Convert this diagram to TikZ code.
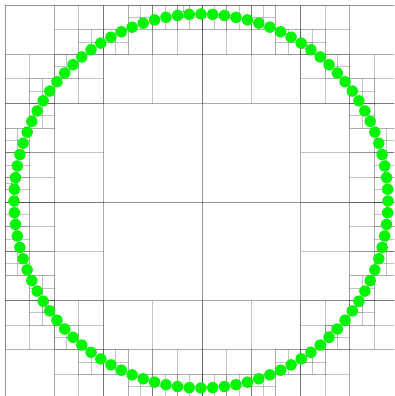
\documentclass[tikz,border=0pt]{standalone}
\usepackage{xcolor}
\definecolor{treeGreen}{RGB}{0,245,0}
\definecolor{treeLine}{RGB}{40,40,40}

\makeatletter
\newcount\qtk
\newcount\qtn
\def\qtnpts{100}
\def\qtmaxdepth{7}
% one cell of the quadtree: left, top, size, depth
\def\qtcell#1#2#3#4{%
  \draw[cell] (#1,#2) rectangle ++(#3,#3);
  \qtn=0 \qtk=0
  \loop
    \advance\qtk by 1
    \edef\qtpx{\csname qtx\the\qtk\endcsname}%
    \edef\qtpy{\csname qty\the\qtk\endcsname}%
    \ifdim\qtpx pt<#1pt\else
      \ifdim\qtpx pt<\dimexpr#1pt+#3pt\relax
        \ifdim\qtpy pt<#2pt\else
          \ifdim\qtpy pt<\dimexpr#2pt+#3pt\relax
            \advance\qtn by 1
          \fi
        \fi
      \fi
    \fi
  \ifnum\qtk<\qtnpts\relax\repeat
  \ifnum\qtn>1 \ifnum#4<\qtmaxdepth\relax
    \begingroup
    \edef\qth{\strip@pt\dimexpr#3pt/2\relax}%
    \edef\qtmx{\strip@pt\dimexpr#1pt+\qth pt\relax}%
    \edef\qtmy{\strip@pt\dimexpr#2pt+\qth pt\relax}%
    \edef\qtd{\the\numexpr#4+1\relax}%
    \edef\qtnext{%
      \noexpand\qtcell{#1}{#2}{\qth}{\qtd}%
      \noexpand\qtcell{\qtmx}{#2}{\qth}{\qtd}%
      \noexpand\qtcell{#1}{\qtmy}{\qth}{\qtd}%
      \noexpand\qtcell{\qtmx}{\qtmy}{\qth}{\qtd}}%
    \qtnext
    \endgroup
  \fi\fi
}
\makeatother

\begin{document}
\begin{tikzpicture}[
    x=1pt, y=-1pt,
    cell/.style={draw=treeLine, draw opacity=0.15, line width=0.8pt},
    dot/.style={fill=treeGreen}
]
    \useasboundingbox (0,0) rectangle (394,396);
    \clip (0,0) rectangle (394,396);

    \foreach \k in {1,...,100}{
        \pgfmathsetmacro\qtvx{201+187*cos(3.6*\k)}
        \pgfmathsetmacro\qtvy{201-187*sin(3.6*\k)}
        \expandafter\xdef\csname qtx\k\endcsname{\qtvx}
        \expandafter\xdef\csname qty\k\endcsname{\qtvy}
    }

    \qtcell{5}{5}{394}{0}

    \foreach \k in {1,...,100}{
        \edef\qtpx{\csname qtx\k\endcsname}
        \edef\qtpy{\csname qty\k\endcsname}
        \fill[dot] (\qtpx,\qtpy) circle (5.7);
    }
\end{tikzpicture}
\end{document}
